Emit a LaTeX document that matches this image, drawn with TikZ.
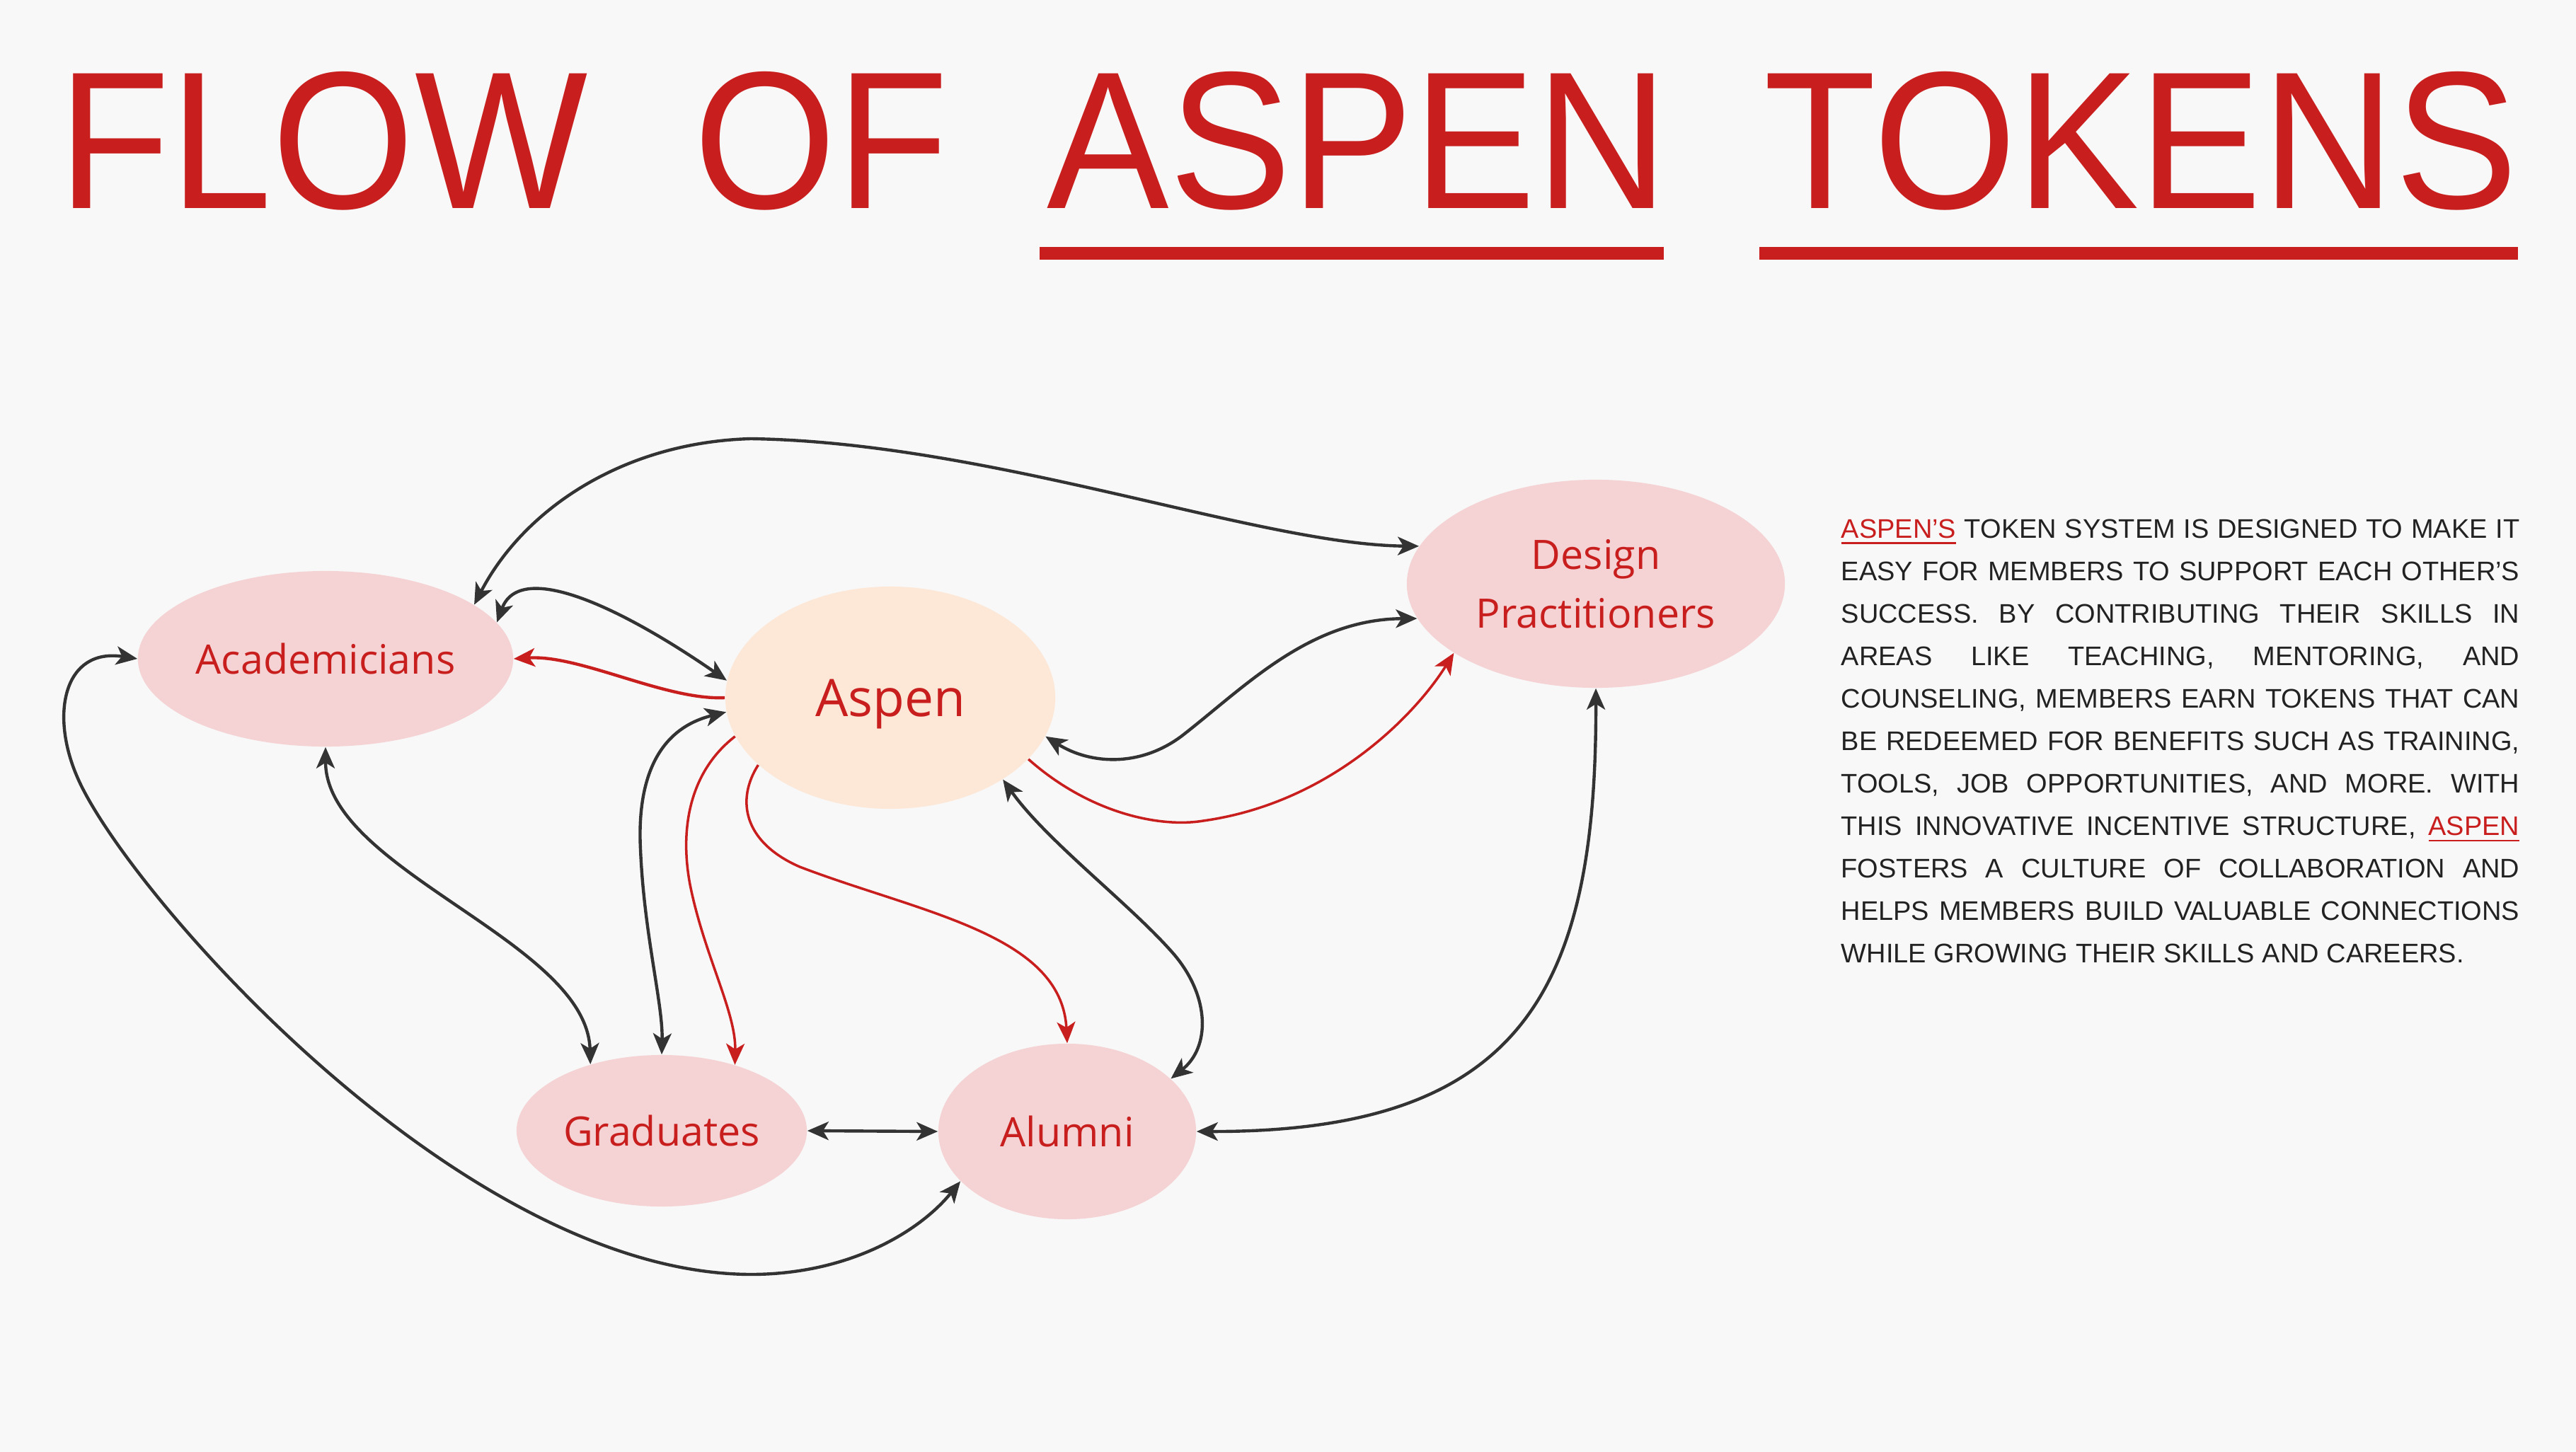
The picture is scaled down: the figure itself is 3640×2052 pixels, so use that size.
\documentclass[tikz,border=0pt]{standalone}
\usepackage{fontspec}
\setmainfont{Liberation Sans}
\newfontfamily\nodefont{Open Sans}
\usetikzlibrary{arrows.meta,shapes.geometric}

\definecolor{bgcol}{HTML}{F8F8F8}
\definecolor{tred}{HTML}{C81E1E}
\definecolor{npink}{HTML}{F5D3D4}
\definecolor{npeach}{HTML}{FDE8D8}
\definecolor{ink}{HTML}{333333}
\definecolor{bodytext}{HTML}{222222}

% red word with a red rule underneath
\newsavebox\ulbox
\newcommand\redul[1]{\sbox\ulbox{\textcolor{tred}{#1}}%
  \rlap{\textcolor{tred}{\rule[-2.6pt]{\wd\ulbox}{0.8pt}}}\usebox\ulbox}
% one fully justified line of the paragraph
\newcommand\jline[1]{\makebox[\linewidth][s]{#1}}

\tikzset{
  tip/.tip={Stealth[length=0.30cm,width=0.26cm,inset=0.08cm]},
  grp/.style={ellipse, fill=npink, draw=none, inner sep=0pt, text=tred,
    font=\nodefont\fontsize{16.3}{23.6}\selectfont, align=center},
  hub/.style={ellipse, fill=npeach, draw=none, inner sep=0pt, text=tred,
    font=\nodefont\fontsize{20.8}{25}\selectfont, text depth=0pt},
  link/.style={draw=ink, line width=1.25pt, {tip}-{tip}},
  flow/.style={draw=tred, line width=1pt, -{tip}},
  titleword/.style={anchor=base west, inner sep=0pt, text=tred,
    font=\fontsize{78.7}{80}\selectfont},
}

\begin{document}
\begin{tikzpicture}[x=0.01cm, y=-0.01cm]
  \fill[bgcol] (0,0) rectangle (3640,2052);
  \useasboundingbox (0,0) rectangle (3640,2052);

  % heading
  \node[titleword] (tflow)   at (82,295)   {\scalebox{0.935}[1]{FLOW}};
  \node[titleword] (tof)     at (980,295)  {\scalebox{0.935}[1]{OF}};
  \node[titleword] (taspen)  at (1479,295) {\scalebox{0.935}[1]{ASPEN}};
  \node[titleword] (ttokens) at (2492,295) {\scalebox{0.94}[1]{TOKENS}};
  \fill[tred] (1469,349) rectangle (2351,367);
  \fill[tred] (2486,349) rectangle (3558,367);

  % participants
  \node[grp, minimum width=5.30cm, minimum height=2.48cm] (acad) at (460,931) {Academicians};
  \node[hub, minimum width=4.66cm, minimum height=3.14cm] (aspen) at (1258,986) {Aspen};
  \node[grp, minimum width=5.34cm, minimum height=2.94cm] (dp) at (2255,825) {Design\\Practitioners};
  \node[grp, minimum width=4.10cm, minimum height=2.14cm] (grad) at (935,1598) {Graduates};
  \node[grp, minimum width=3.64cm, minimum height=2.48cm] (alum) at (1508,1599) {Alumni};

  % two-way exchanges
  \draw[link] (acad.20) .. controls (740,720) and (880,625) .. (1061,620)
              .. controls (1400,625) and (1780,770) .. (dp.168.7);
  \draw[link] (acad.12.9) .. controls (735,790) and (880,860) .. (aspen.174);
  \draw[link] (acad.180) .. controls (90,915) and (70,1010) .. (110,1100)
              .. controls (180,1260) and (650,1800) .. (1061,1801)
              .. controls (1200,1801) and (1300,1740) .. (alum.205.6);
  \draw[link] (acad.270) .. controls (460,1230) and (830,1330) .. (grad.137);
  \draw[link] (aspen.185.9) .. controls (930,1030) and (900,1100) .. (905,1200)
              .. controls (910,1320) and (937,1420) .. (grad.90);
  \draw[link] (aspen.324.9) .. controls (1480,1190) and (1600,1280) .. (1660,1350)
              .. controls (1710,1410) and (1710,1480) .. (alum.27.3);
  \draw[link] (aspen.346.4) .. controls (1540,1080) and (1610,1085) .. (1670,1040)
              .. controls (1760,970) and (1850,875) .. (dp.191.3);
  \draw[link] (grad.east) -- (alum.west);
  \draw[link] (dp.270) .. controls (2256,1400) and (2150,1600) .. (alum.0);

  % tokens issued by Aspen
  \draw[flow, line width=1.25pt] (aspen.180) .. controls (940,990) and (820,925) .. (acad.0);
  \draw[flow] (aspen.194) .. controls (975,1090) and (960,1170) .. (975,1250)
              .. controls (995,1350) and (1040,1430) .. (grad.42);
  \draw[flow] (aspen.207.5) .. controls (1040,1130) and (1050,1190) .. (1130,1225)
              .. controls (1300,1290) and (1500,1320) .. (alum.90);
  \draw[flow] (aspen.336.1) .. controls (1540,1150) and (1640,1170) .. (1700,1160)
              .. controls (1880,1135) and (2000,1010) .. (dp.206.9);

  % description
  \node[anchor=base west, inner sep=0pt, text=bodytext,
        font=\fontsize{10.8}{17.07}\selectfont] (blurb) at (2601,760) {%
    \parbox[t]{9.58cm}{%
      \jline{\redul{ASPEN'S} TOKEN SYSTEM IS DESIGNED TO MAKE IT}\\
      \jline{EASY FOR MEMBERS TO SUPPORT EACH OTHER'S}\\
      \jline{SUCCESS. BY CONTRIBUTING THEIR SKILLS IN}\\
      \jline{AREAS LIKE TEACHING, MENTORING, AND}\\
      \jline{COUNSELING, MEMBERS EARN TOKENS THAT CAN}\\
      \jline{BE REDEEMED FOR BENEFITS SUCH AS TRAINING,}\\
      \jline{TOOLS, JOB OPPORTUNITIES, AND MORE. WITH}\\
      \jline{THIS INNOVATIVE INCENTIVE STRUCTURE, \redul{ASPEN}}\\
      \jline{FOSTERS A CULTURE OF COLLABORATION AND}\\
      \jline{HELPS MEMBERS BUILD VALUABLE CONNECTIONS}\\
      WHILE GROWING THEIR SKILLS AND CAREERS.}};
\end{tikzpicture}
\end{document}
